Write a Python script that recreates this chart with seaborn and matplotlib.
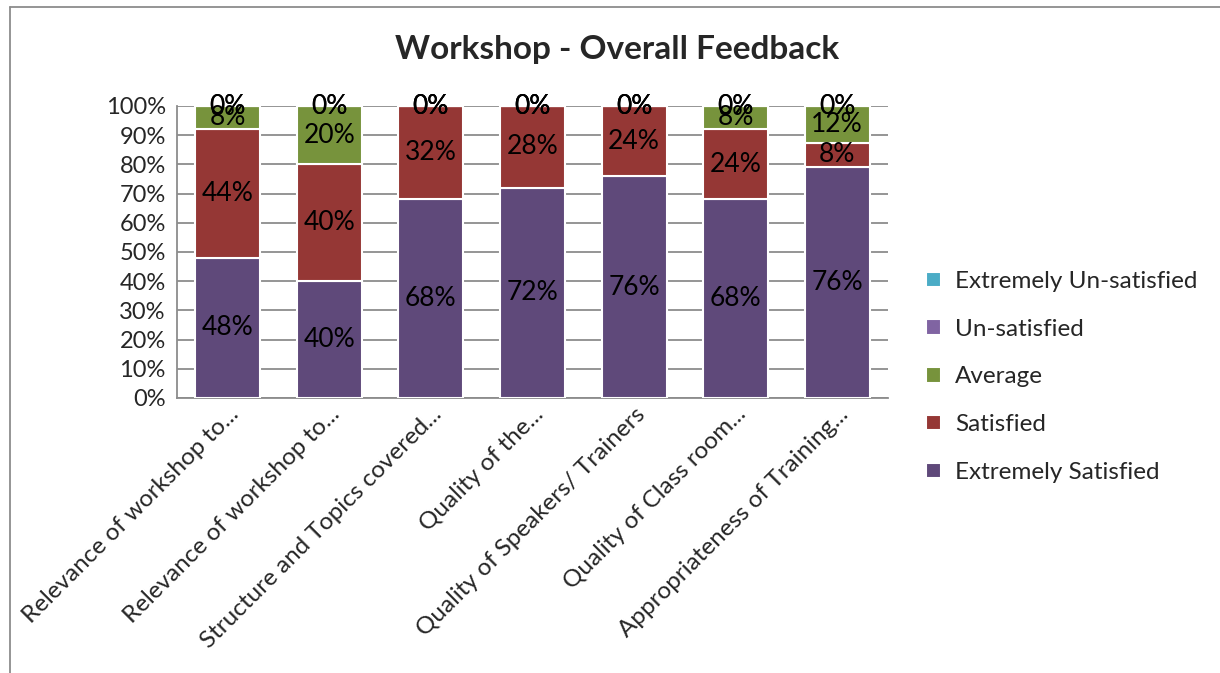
import pandas as pd
import numpy as np
import matplotlib.pyplot as plt
from matplotlib.lines import Line2D
from matplotlib.transforms import ScaledTranslation
import seaborn as sns

# data
questions = [
    "Relevance of workshop to...",
    "Relevance of workshop to...",
    "Structure and Topics covered...",
    "Quality of the...",
    "Quality of Speakers/ Trainers",
    "Quality of Class room...",
    "Appropriateness of Training...",
]
levels = ["Extremely Satisfied", "Satisfied", "Average", "Un-satisfied", "Extremely Un-satisfied"]
extremely_satisfied = [48, 40, 68, 72, 76, 68, 76]
satisfied = [44, 40, 32, 28, 24, 24, 8]
average = [8, 20, 0, 0, 0, 8, 12]
unsatisfied = [0, 0, 0, 0, 0, 0, 0]
extremely_unsatisfied = [0, 0, 0, 0, 0, 0, 0]

colors = ["#5F497A", "#953735", "#77933C", "#8064A2", "#4BACC6"]

sns.set_style("white")
plt.rcParams["font.family"] = ["Lato", "DejaVu Sans"]
FS = 17

# build long table, heights are shares of each bar (100% stacked)
values = np.array([extremely_satisfied, satisfied, average, unsatisfied, extremely_unsatisfied])
totals = values.sum(axis=0)
pos = np.arange(len(questions))
rows = []
for j, level in enumerate(levels):
    for i in range(len(questions)):
        rows.append({"pos": i, "level": level, "value": values[j, i],
                     "share": values[j, i] / totals[i] * 100})
df = pd.DataFrame(rows)

fig = plt.figure(figsize=(12.2, 6.73), dpi=100)
ax = fig.add_axes([177 / 1220, 1 - 398 / 673, 711 / 1220, 292 / 673])

bottoms = np.zeros(len(questions))
for level, color in zip(levels, colors):
    sub = df[df["level"] == level]
    sns.barplot(data=sub, x="pos", y="share", bottom=bottoms, color=color,
                width=0.64, edgecolor="white", linewidth=1.5, label=level,
                saturation=1, ax=ax, zorder=3)
    for i, (v, s) in enumerate(zip(sub["value"], sub["share"])):
        ax.text(i, bottoms[i] + s / 2, f"{v}%", ha="center", va="center",
                fontsize=19, color="black", zorder=5)
    bottoms = bottoms + sub["share"].to_numpy()

ax.set_xlim(-0.5, len(questions) - 0.5)
ax.set_ylim(0, 100)
ax.set_yticks(np.arange(0, 101, 10))
ax.set_yticklabels([f"{t}%" for t in range(0, 101, 10)], fontsize=FS)
ax.set_xticks(pos)
ax.set_xticklabels(questions, rotation=45, ha="right", rotation_mode="anchor", fontsize=17.5)
# nudge the rotated category labels to where the reference puts them
for lab in ax.get_xticklabels():
    lab.set_transform(lab.get_transform() + ScaledTranslation(0.11, 0.04, fig.dpi_scale_trans))
ax.tick_params(axis="y", length=0, pad=8)
ax.tick_params(axis="x", length=0, pad=4)
ax.set_xlabel("")
ax.set_ylabel("")
ax.yaxis.grid(True, color="#8c8c8c", linewidth=1.3, zorder=0)
ax.set_axisbelow(True)
for side in ["top", "right"]:
    ax.spines[side].set_visible(False)
for side in ["left", "bottom"]:
    ax.spines[side].set_color("#8c8c8c")
    ax.spines[side].set_linewidth(1.3)

handles, labels = ax.get_legend_handles_labels()
ax.legend(handles[::-1], labels[::-1], loc="center left", bbox_to_anchor=(1.023, 0.072),
          frameon=False, fontsize=17.5, handlelength=0.6, handleheight=0.6,
          handletextpad=0.6, labelspacing=1.1)

fig.text(617 / 1220, 1 - 50 / 673, "Workshop - Overall Feedback", ha="center", va="center",
         fontsize=24, fontweight="bold")

# outer chart frame (only top and left visible in the reference crop)
fig.add_artist(Line2D([10 / 1220, 10 / 1220], [0, 1 - 7 / 673], transform=fig.transFigure,
                      color="#8c8c8c", linewidth=1.3))
fig.add_artist(Line2D([10 / 1220, 1], [1 - 7 / 673, 1 - 7 / 673], transform=fig.transFigure,
                      color="#8c8c8c", linewidth=1.3))

fig.savefig("out.png", dpi=100)
